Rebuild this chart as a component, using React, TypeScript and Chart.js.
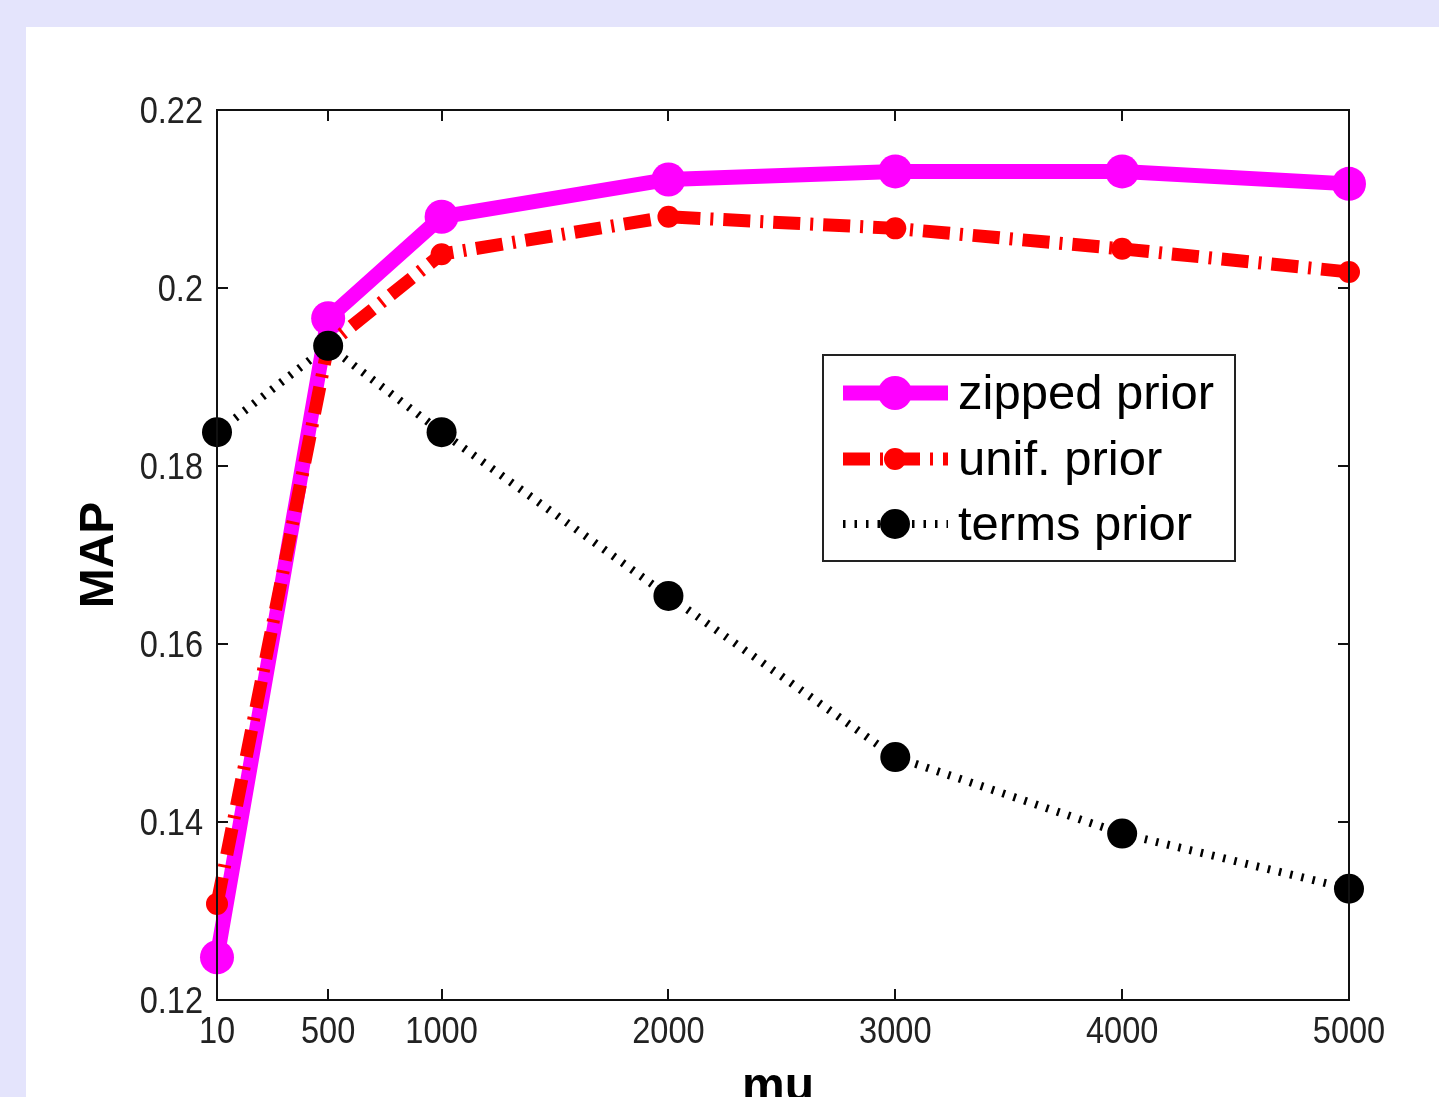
import React, { useEffect, useRef } from "react";
import { Chart, registerables } from "chart.js";

Chart.register(...registerables);

const muValues = [10, 500, 1000, 2000, 3000, 4000, 5000];
const zippedPrior = [0.1248, 0.1966, 0.2080, 0.2122, 0.2131, 0.2131, 0.2117];
const unifPrior = [0.1308, 0.1936, 0.2038, 0.2080, 0.2067, 0.2044, 0.2018];
const termsPrior = [0.1838, 0.1935, 0.1838, 0.1654, 0.1473, 0.1387, 0.1325];
const seriesNames = ["zipped prior", "unif. prior", "terms prior"];
const xTickValues = [10, 500, 1000, 2000, 3000, 4000, 5000];
const xTickLabels = ["10", "500", "1000", "2000", "3000", "4000", "5000"];
const yTickValues = [0.12, 0.14, 0.16, 0.18, 0.2, 0.22];
const yTickLabels = ["0.12", "0.14", "0.16", "0.18", "0.2", "0.22"];
const xTitle = "mu";
const yTitle = "MAP";

const TEXT_FONT = '"Liberation Sans", Arial, sans-serif';

function drawScaledText(ctx: any, text: string, x: number, y: number, align: "left" | "right" | "center", sx: number) {
  ctx.save();
  ctx.translate(x, y);
  ctx.scale(sx, 1);
  ctx.textAlign = align;
  ctx.fillText(text, 0, 0);
  ctx.restore();
}

const framePlugin = {
  id: "matlabFrame",
  afterDatasetsDraw(chart: any) {
    const { ctx, chartArea, scales } = chart;
    const { left, right, top, bottom } = chartArea;
    ctx.save();
    ctx.strokeStyle = "#111";
    ctx.lineWidth = 2;
    ctx.strokeRect(left, top, right - left, bottom - top);
    const tl = 11;
    ctx.beginPath();
    xTickValues.forEach((v) => {
      const x = Math.round(scales.x.getPixelForValue(v));
      ctx.moveTo(x, bottom);
      ctx.lineTo(x, bottom - tl);
      ctx.moveTo(x, top);
      ctx.lineTo(x, top + tl);
    });
    yTickValues.forEach((v) => {
      const y = Math.round(scales.y.getPixelForValue(v));
      ctx.moveTo(left, y);
      ctx.lineTo(left + tl, y);
      ctx.moveTo(right, y);
      ctx.lineTo(right - tl, y);
    });
    ctx.stroke();

    // tick labels (narrow, MATLAB-like)
    ctx.fillStyle = "#222";
    ctx.font = `37px ${TEXT_FONT}`;
    ctx.textBaseline = "alphabetic";
    xTickValues.forEach((v, i) => {
      const x = scales.x.getPixelForValue(v);
      drawScaledText(ctx, xTickLabels[i], x, bottom + 43, "center", 0.88);
    });
    yTickValues.forEach((v, i) => {
      const y = scales.y.getPixelForValue(v);
      drawScaledText(ctx, yTickLabels[i], left - 14, y + 13, "right", 0.88);
    });

    // axis titles
    ctx.fillStyle = "#000";
    ctx.font = `bold 48px ${TEXT_FONT}`;
    ctx.textAlign = "center";
    ctx.textBaseline = "alphabetic";
    ctx.fillText(xTitle, (left + right) / 2 - 5, bottom + 101);
    ctx.save();
    ctx.translate(left - 104, (top + bottom) / 2);
    ctx.rotate(-Math.PI / 2);
    ctx.fillText(yTitle, 0, 0);
    ctx.restore();

    // legend
    const bx = left + 606;
    const by = top + 245;
    const bw = 412;
    const bh = 206;
    ctx.fillStyle = "#fff";
    ctx.fillRect(bx, by, bw, bh);
    ctx.strokeStyle = "#222";
    ctx.lineWidth = 2;
    ctx.strokeRect(bx, by, bw, bh);
    const rows = [38, 104, 169];
    chart.data.datasets.forEach((ds: any, i: number) => {
      const cy = by + rows[i];
      ctx.save();
      ctx.strokeStyle = ds.borderColor;
      ctx.lineWidth = ds.borderWidth;
      ctx.setLineDash(ds.borderDash || []);
      ctx.lineCap = "butt";
      ctx.beginPath();
      ctx.moveTo(bx + 20, cy);
      ctx.lineTo(bx + 125, cy);
      ctx.stroke();
      ctx.setLineDash([]);
      ctx.fillStyle = ds.pointBackgroundColor;
      ctx.beginPath();
      ctx.arc(bx + 72, cy, ds.pointRadius, 0, Math.PI * 2);
      ctx.fill();
      ctx.restore();
      ctx.fillStyle = "#000";
      ctx.font = `49px ${TEXT_FONT}`;
      ctx.textAlign = "left";
      ctx.textBaseline = "middle";
      ctx.fillText(ds.label, bx + 135, cy + 2);
    });
    ctx.restore();
  },
};

export default function App() {
  const canvasRef = useRef<HTMLCanvasElement | null>(null);

  useEffect(() => {
    const canvas = canvasRef.current;
    if (!canvas) return;
    const mk = (arr: number[]) => muValues.map((x, i) => ({ x, y: arr[i] }));
    const chart = new Chart(canvas, {
      type: "line",
      data: {
        datasets: [
          {
            label: seriesNames[0],
            data: mk(zippedPrior),
            borderColor: "#ff00ff",
            backgroundColor: "#ff00ff",
            pointBackgroundColor: "#ff00ff",
            pointBorderColor: "#ff00ff",
            borderWidth: 15,
            pointRadius: 17,
            pointBorderWidth: 0,
            tension: 0,
            clip: false,
            order: 3,
          } as any,
          {
            label: seriesNames[1],
            data: mk(unifPrior),
            borderColor: "#ff0000",
            backgroundColor: "#ff0000",
            pointBackgroundColor: "#ff0000",
            pointBorderColor: "#ff0000",
            borderWidth: 13,
            borderDash: [27, 10, 3, 10],
            pointRadius: 11,
            pointBorderWidth: 0,
            tension: 0,
            clip: false,
            order: 2,
          } as any,
          {
            label: seriesNames[2],
            data: mk(termsPrior),
            borderColor: "#000000",
            backgroundColor: "#000000",
            pointBackgroundColor: "#000000",
            pointBorderColor: "#000000",
            borderWidth: 8,
            borderDash: [2.5, 9],
            pointRadius: 15,
            pointBorderWidth: 0,
            tension: 0,
            clip: false,
            order: 1,
          } as any,
        ],
      },
      options: {
        animation: false,
        responsive: false,
        maintainAspectRatio: false,
        layout: { padding: { left: 0, right: 90, top: 83, bottom: 0 } },
        plugins: { legend: { display: false }, tooltip: { enabled: false }, title: { display: false } },
        scales: {
          x: {
            type: "linear",
            min: 10,
            max: 5000,
            afterBuildTicks: (s: any) => {
              s.ticks = xTickValues.map((v) => ({ value: v }));
            },
            afterFit: (s: any) => {
              s.height = 97;
            },
            grid: { display: false, drawTicks: false },
            border: { display: false },
            ticks: { display: false },
          },
          y: {
            type: "linear",
            min: 0.12,
            max: 0.22,
            afterBuildTicks: (s: any) => {
              s.ticks = yTickValues.map((v) => ({ value: v }));
            },
            afterFit: (s: any) => {
              s.width = 191;
            },
            grid: { display: false, drawTicks: false },
            border: { display: false },
            ticks: { display: false },
          },
        },
      } as any,
      plugins: [framePlugin],
    });
    return () => chart.destroy();
  }, []);

  return (
    <div
      style={{
        position: "fixed",
        left: 0,
        top: 0,
        width: 1439,
        height: 1097,
        background: "#e4e4fc",
        overflow: "hidden",
      }}
    >
      <div
        style={{
          position: "absolute",
          left: 26,
          top: 27,
          width: 1413,
          height: 1070,
          background: "#ffffff",
        }}
      >
        <canvas ref={canvasRef} width={1413} height={1070} style={{ display: "block" }} />
      </div>
    </div>
  );
}
